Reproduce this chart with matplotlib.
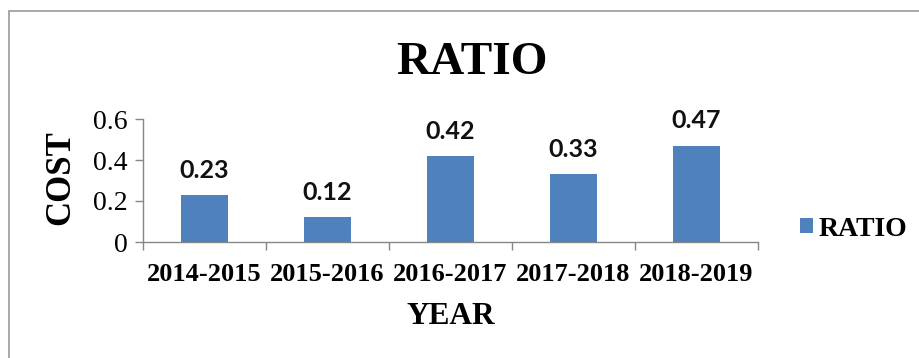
import matplotlib.pyplot as plt
import numpy as np
from matplotlib.patches import Rectangle

years = ["2014-2015", "2015-2016", "2016-2017", "2017-2018", "2018-2019"]
ratio = [0.23, 0.12, 0.42, 0.33, 0.47]
yticks = [0, 0.2, 0.4, 0.6]
ytick_labels = ["0", "0.2", "0.4", "0.6"]

BAR = "#4f81bd"
AXIS = "#868686"
SERIF = "Liberation Serif"

fig = plt.figure(figsize=(9.2, 3.58), dpi=100, facecolor="white")
ax = fig.add_axes([143 / 920, 1 - 242 / 358, (758 - 143) / 920, (242 - 119) / 358])

x = np.arange(len(years))
bars = ax.bar(x, ratio, width=0.39, color=BAR, label="RATIO", zorder=3)
for b, v in zip(bars, ratio):
    ax.text(b.get_x() + b.get_width() / 2, v + 0.065, f"{v:.2f}",
            ha="center", va="bottom", fontsize=18, fontweight="bold",
            family="Lato", color="#111111")

ax.set_xlim(-0.5, len(years) - 0.5)
ax.set_ylim(0, 0.6)
ax.set_yticks(yticks)
ax.set_yticklabels(ytick_labels, family=SERIF, fontsize=20)

# category boundaries carry the tick marks, centres carry the labels
ax.set_xticks(np.arange(-0.5, len(years)), minor=False)
ax.set_xticklabels([""] * (len(years) + 1))
ax.set_xticks(x, minor=True)
ax.set_xticklabels(years, minor=True, family=SERIF, fontsize=19, fontweight="bold")
ax.tick_params(axis="x", which="major", length=6, color=AXIS, width=1)
ax.tick_params(axis="x", which="minor", length=0, pad=15)
ax.tick_params(axis="y", length=6, color=AXIS, width=1, pad=5)

for s in ("top", "right"):
    ax.spines[s].set_visible(False)
for s in ("left", "bottom"):
    ax.spines[s].set_color(AXIS)
    ax.spines[s].set_linewidth(1)

fig.text(472 / 920, 1 - 63 / 358, "RATIO", ha="center", va="center",
         family=SERIF, fontsize=34, fontweight="bold")
fig.text(451 / 920, 1 - 317 / 358, "YEAR", ha="center", va="center",
         family=SERIF, fontsize=22.5, fontweight="bold")
fig.text(61 / 920, 1 - 178 / 358, "COST", ha="center", va="center",
         rotation=90, family=SERIF, fontsize=25, fontweight="bold")

leg = fig.legend(handles=[bars], labels=["RATIO"], loc="center left",
                 bbox_to_anchor=(800 / 920, 1 - 229 / 358), frameon=False,
                 borderpad=0, borderaxespad=0,
                 handlelength=0.47, handleheight=0.47, handletextpad=0.2,
                 prop={"family": SERIF, "size": 20, "weight": "bold"})

# chart-area frame
fig.patches.append(Rectangle((9.5 / 920, -0.2), 1.2, 0.2 + 1 - 11 / 358,
                             transform=fig.transFigure, fill=False,
                             edgecolor="#9a9a9a", linewidth=1.2))

fig.savefig("out.png", dpi=100, facecolor="white")
